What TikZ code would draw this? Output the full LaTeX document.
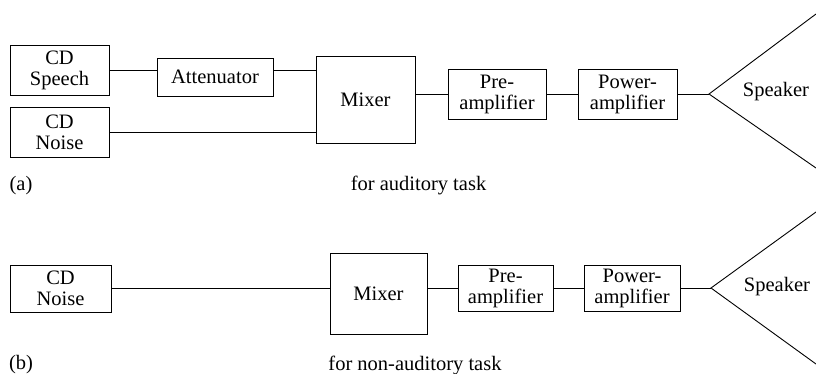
\documentclass[tikz,border=0pt]{standalone}
\usepackage{fontspec}
\setmainfont{Liberation Serif}
\usepackage{amsmath}

\begin{document}
\begin{tikzpicture}[x=1pt, y=-1pt, line width=0.9pt,
		blk/.style={draw, rectangle, inner sep=0pt, align=center, font=\fontsize{20.5}{21}\selectfont},
		txt/.style={inner sep=0pt, font=\fontsize{20.5}{21}\selectfont}]
				\useasboundingbox (0,0) rectangle (816,374);
				\node[blk, minimum width=99, minimum height=50] (SpA)at(59.5, 70) {CD\\Speech};
				\node[blk, minimum width=99, minimum height=50] (NoA)at(59.5, 132) {CD\\Noise};
				\node[blk, minimum width=116, minimum height=38] (AtA)at(215, 77) {Attenuator};
				\node[blk, minimum width=99, minimum height=87] (MxA)at(365.5, 99.5) {Mixer};
				\node[blk, minimum width=98, minimum height=50] (PrA)at(497, 94) {Pre-\\amplifier};
				\node[blk, minimum width=99, minimum height=50] (PwA)at(627.5, 94) {Power-\\amplifier};
				\coordinate (SkA)at(709, 94);
				\coordinate (SkAt)at(816, 14);
				\coordinate (SkAb)at(816, 168);
				\node[txt] (SkAl)at(776, 92) {Speaker};
				\node[txt] (LbA)at(21, 186) {(a)};
				\node[txt] (TkA)at(418.5, 185) {for auditory task};
				\draw (SpA.east) -- (SpA.east -| AtA.west);
				\draw (AtA.east |- SpA.east) -- (SpA.east -| MxA.west);
				\draw (NoA.east) -- (NoA.east -| MxA.west);
				\draw (PrA.west -| MxA.east) -- (PrA.west);
				\draw (PrA) -- (PwA);
				\draw (PwA) -- (SkA);
				\draw (SkAt) -- (SkA) -- (SkAb);
				\node[blk, minimum width=101, minimum height=47] (NoB)at(60.5, 288.5) {CD\\Noise};
				\node[blk, minimum width=97, minimum height=81] (MxB)at(378.5, 293.5) {Mixer};
				\node[blk, minimum width=95, minimum height=46] (PrB)at(505.5, 288) {Pre-\\amplifier};
				\node[blk, minimum width=96, minimum height=46] (PwB)at(632, 288) {Power-\\amplifier};
				\coordinate (SkB)at(711, 288);
				\coordinate (SkBt)at(816, 212);
				\coordinate (SkBb)at(816, 364);
				\node[txt] (SkBl)at(777, 287) {Speaker};
				\node[txt] (LbB)at(21, 365) {(b)};
				\node[txt] (TkB)at(415, 365) {for non-auditory task};
				\draw (NoB.east) -- (NoB.east -| MxB.west);
				\draw (PrB.west -| MxB.east) -- (PrB.west);
				\draw (PrB) -- (PwB);
				\draw (PwB) -- (SkB);
				\draw (SkBt) -- (SkB) -- (SkBb);
			\end{tikzpicture}
\end{document}
